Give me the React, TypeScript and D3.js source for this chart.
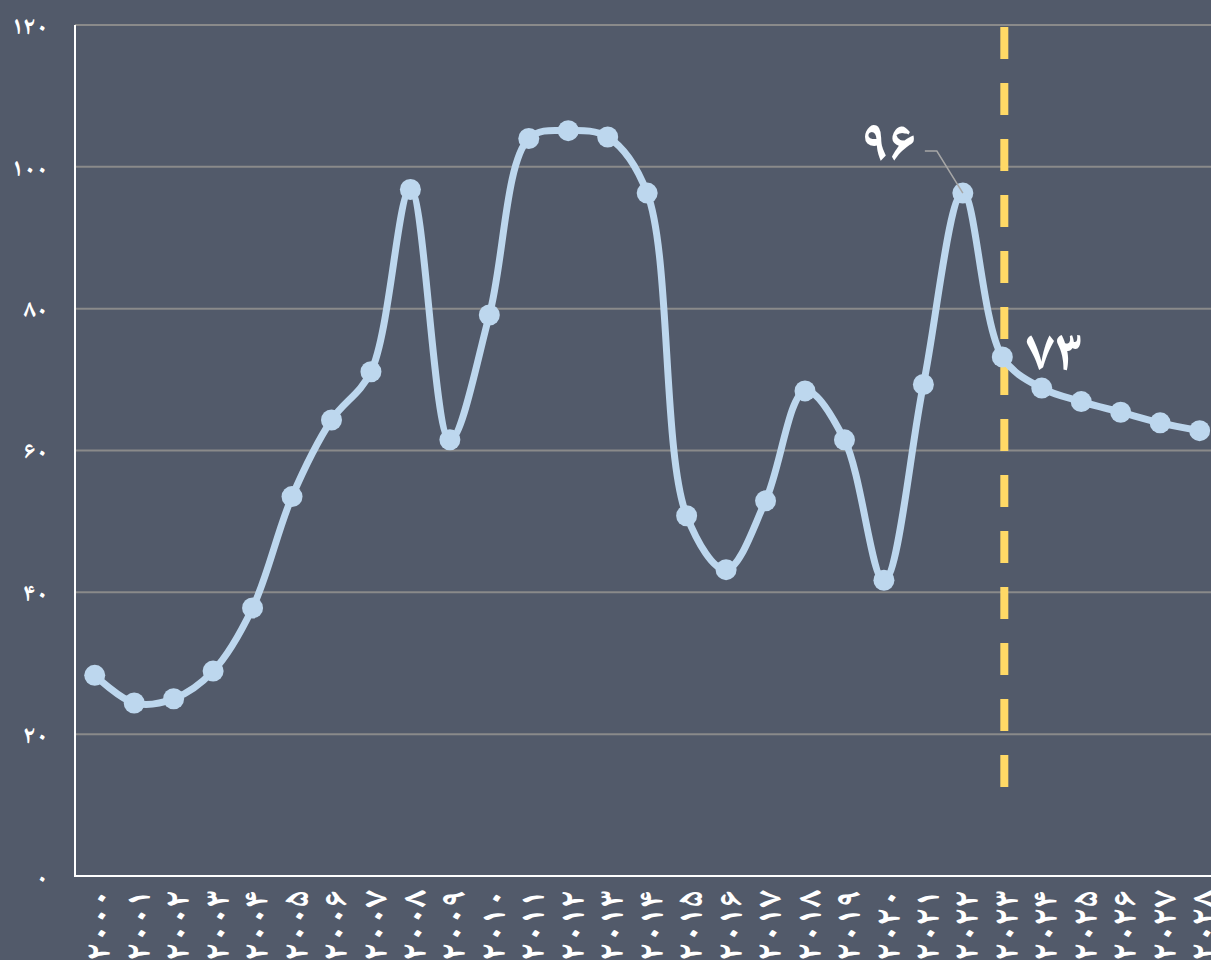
import * as React from 'react';
import * as d3 from 'd3';

// years on the x axis
const years = [2000, 2001, 2002, 2003, 2004, 2005, 2006, 2007, 2008, 2009, 2010,
  2011, 2012, 2013, 2014, 2015, 2016, 2017, 2018, 2019, 2020,
  2021, 2022, 2023, 2024, 2025, 2026, 2027, 2028];

// series values
const values = [28.3, 24.4, 25.0, 28.9, 37.8, 53.5, 64.3, 71.1, 96.8, 61.5, 79.1,
  104.0, 105.1, 104.2, 96.3, 50.8, 43.2, 52.9, 68.4, 61.5, 41.7,
  69.3, 96.3, 73.2, 68.8, 66.9, 65.4, 63.9, 62.8];

const yTicks = [0, 20, 40, 60, 80, 100, 120];

// annotated points
const callouts = [
  { year: 2022, text: '۹۶' },
  { year: 2023, text: '۷۳' },
];
const forecastYear = 2023;

const faDigits = '۰۱۲۳۴۵۶۷۸۹';
const toFa = (n: number) => String(n).replace(/\d/g, (c) => faDigits[+c]);

const width = 1211;
const height = 960;
const font = "'Noto Naskh Arabic', serif";

export default function App() {
  const svg_root = React.useRef() as React.MutableRefObject<any>;

  React.useEffect(() => {
    const svg = d3.select(svg_root.current);
    svg.selectAll('*').remove();

    const left = 75, top = 25, bottom = 876;

    const x = d3.scaleBand<number>()
      .domain(years)
      .range([left, left + years.length * 39.46])
      .padding(0);
    const cx = (yr: number) => (x(yr) as number) + x.bandwidth() / 2;

    const y = d3.scaleLinear().domain([0, 120]).range([bottom, top]);

    svg.append('rect').attr('width', width).attr('height', height).attr('fill', '#525a6a');

    // gridlines
    svg.append('g').selectAll('line')
      .data(yTicks.filter((t) => t > 0))
      .enter().append('line')
      .attr('x1', left).attr('x2', width)
      .attr('y1', (d) => y(d)).attr('y2', (d) => y(d))
      .attr('stroke', '#8a8a8a').attr('stroke-width', 2);

    // y tick labels
    svg.append('g').selectAll('text')
      .data(yTicks)
      .enter().append('text')
      .attr('x', 48).attr('y', (d) => y(d))
      .attr('dy', '0.35em')
      .attr('text-anchor', 'end')
      .attr('fill', '#fff')
      .attr('font-family', font)
      .attr('font-weight', 'bold')
      .attr('font-size', 25)
      .text((d) => toFa(d));

    // axes lines
    svg.append('line').attr('x1', left).attr('x2', left).attr('y1', top).attr('y2', bottom)
      .attr('stroke', '#fff').attr('stroke-width', 2);
    svg.append('line').attr('x1', left - 1).attr('x2', width).attr('y1', bottom).attr('y2', bottom)
      .attr('stroke', '#fff').attr('stroke-width', 2);

    // x tick labels, rotated
    svg.append('g').selectAll('text')
      .data(years)
      .enter().append('text')
      .attr('transform', (d) => `translate(${cx(d) + 3},890) rotate(-90)`)
      .attr('dy', '0.35em')
      .attr('text-anchor', 'end')
      .attr('fill', '#fff')
      .attr('font-family', font)
      .attr('font-weight', 'bold')
      .attr('font-size', 36)
      .text((d) => toFa(d));

    // forecast divider
    svg.append('line')
      .attr('x1', cx(forecastYear) + 2).attr('x2', cx(forecastYear) + 2)
      .attr('y1', 27).attr('y2', 787)
      .attr('stroke', '#ffd966').attr('stroke-width', 8)
      .attr('stroke-dasharray', '32 24');

    const pts: [number, number][] = years.map((yr, i) => [cx(yr), y(values[i])]);

    const line = d3.line().curve(d3.curveCatmullRom.alpha(0.5));
    svg.append('path')
      .attr('d', line(pts))
      .attr('fill', 'none')
      .attr('stroke', '#bdd7ee')
      .attr('stroke-width', 7);

    svg.append('g').selectAll('circle')
      .data(pts)
      .enter().append('circle')
      .attr('cx', (d) => d[0]).attr('cy', (d) => d[1])
      .attr('r', 10.5)
      .attr('fill', '#bdd7ee');

    // callouts
    const c96 = callouts[0];
    const p96: [number, number] = [cx(c96.year), y(values[years.indexOf(c96.year)])];
    svg.append('polyline')
      .attr('points', `${p96[0] - 38},${p96[1] - 42} ${p96[0] - 26},${p96[1] - 42} ${p96[0]},${p96[1]}`)
      .attr('fill', 'none').attr('stroke', '#a6a6a6').attr('stroke-width', 1.5);
    svg.append('text')
      .attr('x', p96[0] - 46).attr('y', p96[1] - 32)
      .attr('text-anchor', 'end')
      .attr('fill', '#fff')
      .attr('font-family', font)
      .attr('font-weight', 'bold')
      .attr('font-size', 58)
      .text(c96.text);

    const c73 = callouts[1];
    const p73: [number, number] = [cx(c73.year), y(values[years.indexOf(c73.year)])];
    svg.append('text')
      .attr('x', p73[0] + 24).attr('y', p73[1] + 13)
      .attr('text-anchor', 'start')
      .attr('fill', '#fff')
      .attr('font-family', font)
      .attr('font-weight', 'bold')
      .attr('font-size', 58)
      .text(c73.text);
  }, []);

  return (
    <svg width={width} height={height} ref={svg_root}
      style={{ position: 'absolute', left: 0, top: 0 }} />
  );
}
